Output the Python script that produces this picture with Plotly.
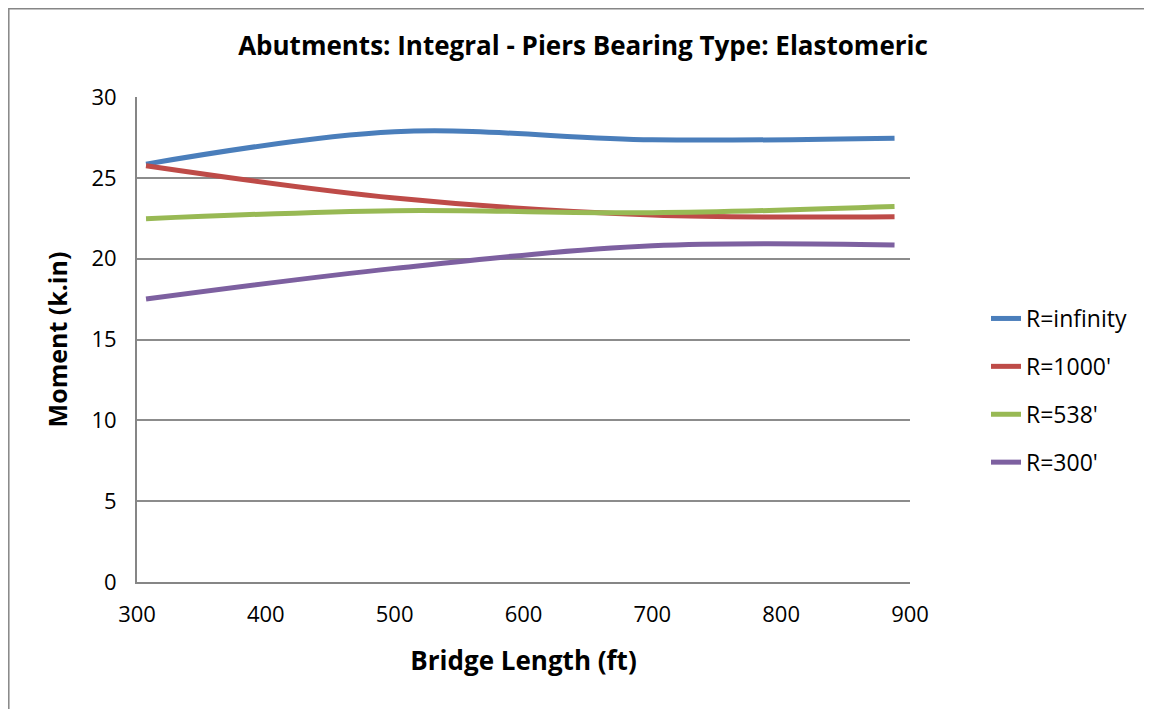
import plotly.graph_objects as go

lengths = [307, 500, 700, 888]
r_inf = [25.85, 27.85, 27.35, 27.45]
r_1000 = [25.75, 23.75, 22.7, 22.6]
r_538 = [22.47, 22.97, 22.84, 23.22]
r_300 = [17.5, 19.4, 20.8, 20.85]

series = [
    ("R=infinity", r_inf, "#4A7EBB"),
    ("R=1000'", r_1000, "#BE4B48"),
    ("R=538'", r_538, "#98B954"),
    ("R=300'", r_300, "#7D60A0"),
]

FONT = "Open Sans, Liberation Sans, sans-serif"
W, H = 1144, 701
L, T, R, B = 129, 89, 242, 127
PW, PH = W - L - R, H - T - B

fig = go.Figure()
for i, (name, vals, col) in enumerate(series):
    fig.add_trace(go.Scatter(
        x=lengths, y=vals, name=name, mode="lines",
        line=dict(color=col, width=5, shape="spline", smoothing=1.0),
        legendgroup=f"g{i}",
    ))

fig.update_layout(
    width=W, height=H,
    margin=dict(l=L, r=R, t=T, b=B, autoexpand=False),
    paper_bgcolor="white", plot_bgcolor="white",
    font=dict(family=FONT, size=22, color="black"),
    title=dict(text="<b>Abutments: Integral - Piers Bearing Type: Elastomeric</b>",
               x=(583 - 8) / W, xanchor="center", y=1 - (46 - 8) / H, yanchor="middle",
               font=dict(size=26, family=FONT)),
    xaxis=dict(range=[300, 900], dtick=100, showgrid=False, zeroline=False,
               showline=True, linecolor="#868686", linewidth=2, ticks="",
               ticklabelstandoff=12,
               title=dict(text="<b>Bridge Length (ft)</b>", font=dict(size=26), standoff=24),
               tickfont=dict(size=22)),
    yaxis=dict(range=[0, 30], dtick=5, showgrid=True, gridcolor="#8C8C8C", gridwidth=1.5,
               zeroline=False, showline=True, linecolor="#868686", linewidth=2, ticks="",
               ticklabelstandoff=14,
               title=dict(text="<b>Moment (k.in)</b>", font=dict(size=25), standoff=17),
               tickfont=dict(size=22)),
    legend=dict(x=(986 - 8 - L) / PW, y=(574 - 289) / PH, xanchor="left", yanchor="top",
                font=dict(size=23), tracegroupgap=15, bgcolor="rgba(0,0,0,0)",
                itemwidth=30),
    showlegend=True,
)

fig.add_shape(type="rect", xref="paper", yref="paper",
              x0=(0.8 - L) / PW, x1=(W + 20 - L) / PW,
              y0=-(B + 20) / PH, y1=(H - B - 0.8) / PH,
              line=dict(color="#868686", width=1.5), fillcolor="rgba(0,0,0,0)", layer="below")

fig.write_html("out.html")
